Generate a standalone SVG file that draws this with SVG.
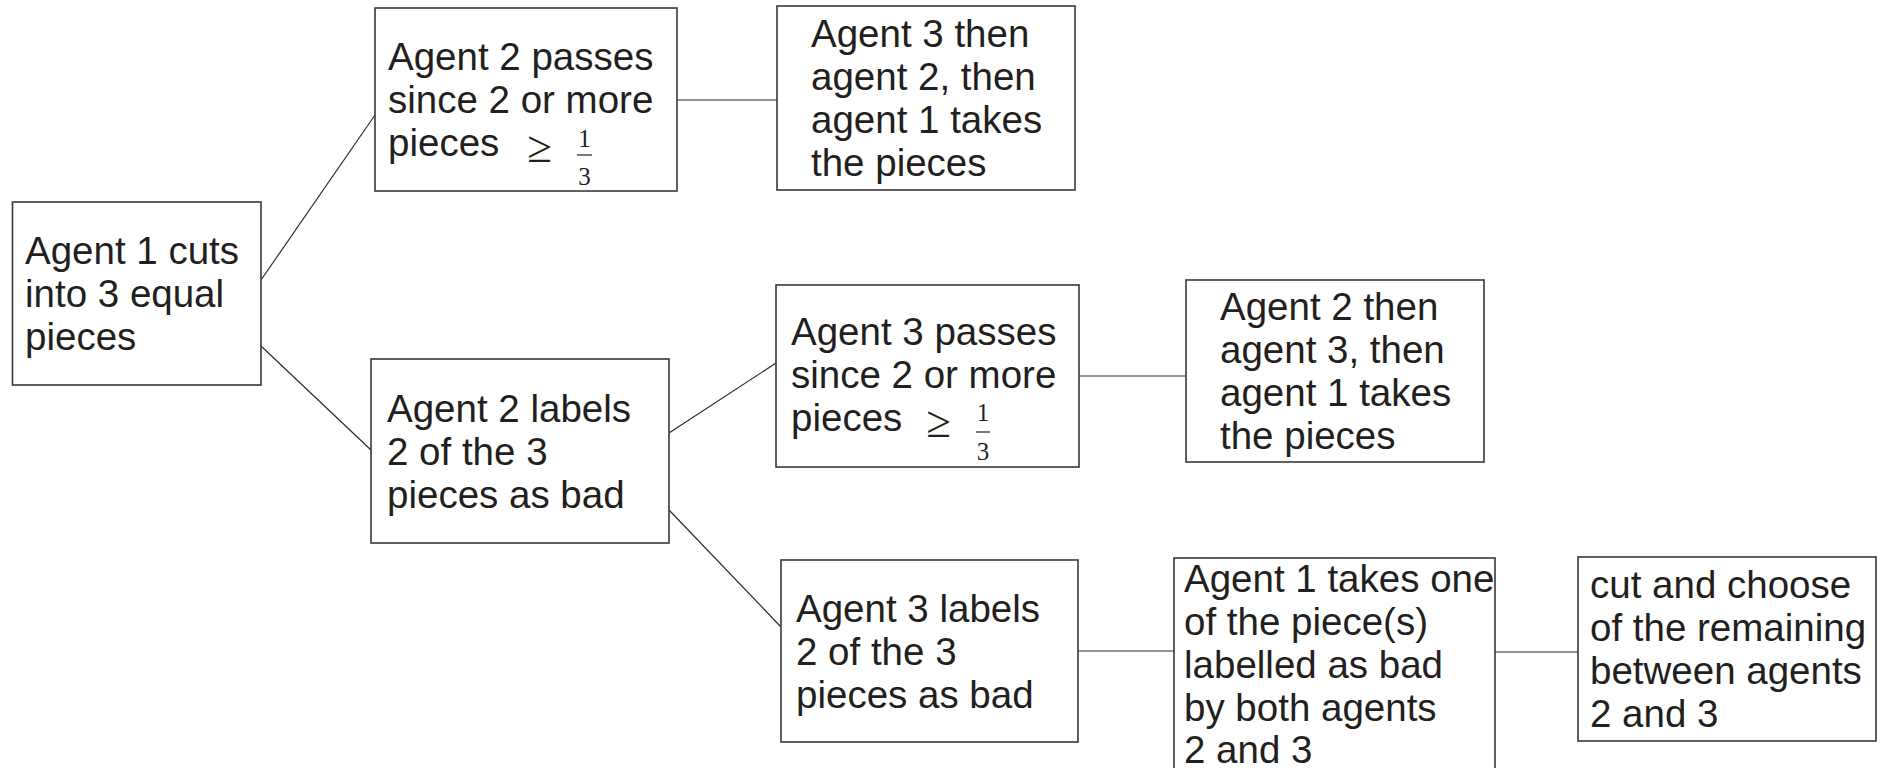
<svg xmlns="http://www.w3.org/2000/svg" width="1883" height="768" viewBox="0 0 1883 768">
<style>
.box{fill:#ffffff;stroke:#3a3838;stroke-width:1.6}
.t{font-family:"Liberation Sans",Arial,sans-serif;font-size:38.5px;fill:#231f20}
.m{font-family:"Liberation Serif","Times New Roman",serif;fill:#231f20}
.ge{font-size:45px}
.fr{font-size:25px}
.bar{stroke:#231f20;stroke-width:1.2}
.c{stroke:#2b2b2b;stroke-width:1.2;fill:none}
</style>
<rect width="1883" height="768" fill="#ffffff"/>
<g id="connectors">
<line class="c" x1="261" y1="280" x2="375" y2="115"/>
<line class="c" x1="261" y1="346" x2="371" y2="450"/>
<line class="c" x1="677" y1="100" x2="777" y2="100"/>
<line class="c" x1="669" y1="433" x2="776" y2="363"/>
<line class="c" x1="669" y1="510" x2="781" y2="627"/>
<line class="c" x1="1078" y1="376" x2="1186" y2="376"/>
<line class="c" x1="1078" y1="651" x2="1174" y2="651"/>
<line class="c" x1="1495" y1="652" x2="1578" y2="652"/>
</g>
<g id="n1">
<rect class="box" x="12.5" y="202" width="248.5" height="183"/>
<text class="t" x="25"><tspan x="25" y="264">Agent 1 cuts</tspan><tspan x="25" y="307">into 3 equal</tspan><tspan x="25" y="350">pieces</tspan></text>
</g>
<g id="n2">
<rect class="box" x="375" y="8" width="302" height="183"/>
<text class="t"><tspan x="388" y="70">Agent 2 passes</tspan><tspan x="388" y="113">since 2 or more</tspan><tspan x="388" y="156">pieces</tspan></text>
<text class="m ge" x="539.5" y="162" text-anchor="middle">≥</text>
<text class="m fr" x="584.5" y="147" text-anchor="middle">1</text>
<line class="bar" x1="577" y1="155" x2="592" y2="155"/>
<text class="m fr" x="584.5" y="185" text-anchor="middle">3</text>
</g>
<g id="n3">
<rect class="box" x="777" y="6" width="298" height="184"/>
<text class="t"><tspan x="811" y="47">Agent 3 then</tspan><tspan x="811" y="90">agent 2, then</tspan><tspan x="811" y="133">agent 1 takes</tspan><tspan x="811" y="176">the pieces</tspan></text>
</g>
<g id="n4">
<rect class="box" x="371" y="359" width="298" height="184"/>
<text class="t"><tspan x="387" y="422">Agent 2 labels</tspan><tspan x="387" y="465">2 of the 3</tspan><tspan x="387" y="508">pieces as bad</tspan></text>
</g>
<g id="n5">
<rect class="box" x="776" y="285" width="303" height="182"/>
<text class="t"><tspan x="791" y="345">Agent 3 passes</tspan><tspan x="791" y="388">since 2 or more</tspan><tspan x="791" y="431">pieces</tspan></text>
<text class="m ge" x="938.5" y="437" text-anchor="middle">≥</text>
<text class="m fr" x="983" y="421" text-anchor="middle">1</text>
<line class="bar" x1="976" y1="432" x2="990" y2="432"/>
<text class="m fr" x="983" y="460" text-anchor="middle">3</text>
</g>
<g id="n6">
<rect class="box" x="1186" y="280" width="298" height="182"/>
<text class="t"><tspan x="1220" y="320">Agent 2 then</tspan><tspan x="1220" y="363">agent 3, then</tspan><tspan x="1220" y="406">agent 1 takes</tspan><tspan x="1220" y="449">the pieces</tspan></text>
</g>
<g id="n7">
<rect class="box" x="781" y="560" width="297" height="182"/>
<text class="t"><tspan x="796" y="622">Agent 3 labels</tspan><tspan x="796" y="665">2 of the 3</tspan><tspan x="796" y="708">pieces as bad</tspan></text>
</g>
<g id="n8">
<rect class="box" x="1174" y="558" width="321" height="230"/>
<text class="t"><tspan x="1184" y="592">Agent 1 takes one</tspan><tspan x="1184" y="635">of the piece(s)</tspan><tspan x="1184" y="678">labelled as bad</tspan><tspan x="1184" y="721">by both agents</tspan><tspan x="1184" y="763">2 and 3</tspan></text>
</g>
<g id="n9">
<rect class="box" x="1578" y="557" width="298" height="184"/>
<text class="t"><tspan x="1590" y="598">cut and choose</tspan><tspan x="1590" y="641">of the remaining</tspan><tspan x="1590" y="684">between agents</tspan><tspan x="1590" y="727">2 and 3</tspan></text>
</g>
</svg>
